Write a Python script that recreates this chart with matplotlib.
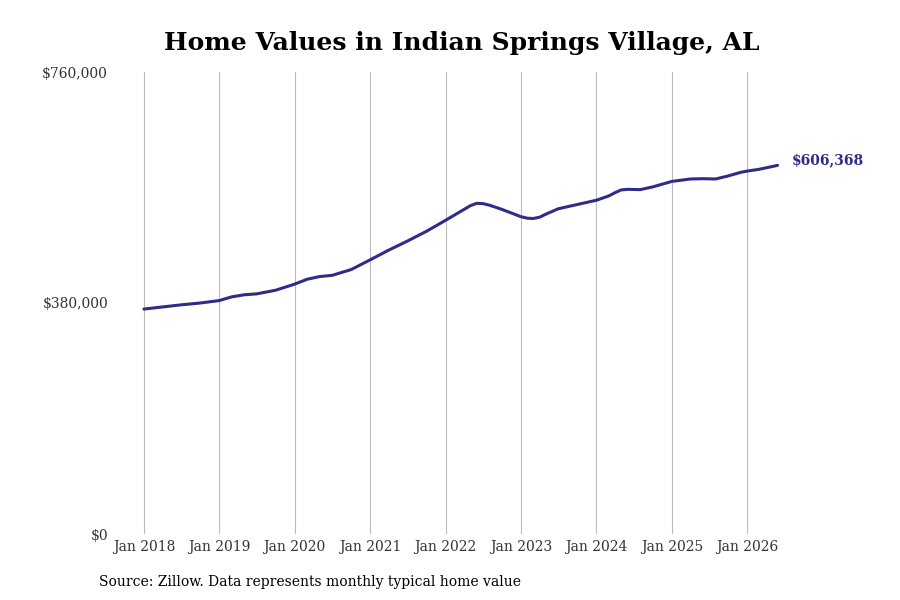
import matplotlib
matplotlib.use("Agg")
import matplotlib.pyplot as plt
import pandas as pd

plt.rcParams['font.family'] = ['DejaVu Serif']

# typical home value
dates = ["2018-01", "2018-04", "2018-07", "2018-10", "2019-01", "2019-03", "2019-05",
         "2019-07", "2019-10", "2020-01", "2020-03", "2020-05", "2020-07", "2020-10",
         "2021-01", "2021-04", "2021-07", "2021-10", "2022-01", "2022-04", "2022-05",
         "2022-06", "2022-07", "2022-08", "2022-10", "2023-01", "2023-02", "2023-03",
         "2023-04", "2023-05", "2023-07", "2023-10", "2024-01", "2024-03", "2024-04",
         "2024-05", "2024-06", "2024-08", "2024-10", "2025-01", "2025-04", "2025-06",
         "2025-08", "2025-10", "2025-12", "2026-01", "2026-03", "2026-05-28"]
values = [370000, 373500, 377000, 380000, 384000, 390000, 393500,
          395000, 401000, 411000, 419000, 423500, 425500, 435000,
          451000, 467000, 482000, 498000, 516000, 534000, 540000,
          544000, 543500, 541000, 534000, 522000, 519500, 519000,
          521000, 526000, 535000, 542000, 549000, 556000, 561500,
          566000, 567000, 566500, 571000, 580000, 584000, 584500,
          584000, 589000, 595000, 597000, 600000, 606368]
year_ticks = list(range(2018, 2027))
y_ticks = [0, 380000, 760000]
y_labels = ["$0", "$380,000", "$760,000"]

line_color = "#2f2b88"

dates = pd.to_datetime(dates, format="ISO8601")
fig = plt.figure(figsize=(9, 6), dpi=100)
ax = fig.add_axes([115 / 900, 66 / 600, 685 / 900, 462 / 600])

ax.plot(dates, values, color=line_color, lw=2.2, solid_capstyle="round",
        solid_joinstyle="round")
ax.text(dates[-1] + pd.Timedelta(days=68), values[-1] + 8000, "$606,368", color=line_color,
        fontsize=10, fontweight="bold", va="center", ha="left")

start = pd.Timestamp("2018-01-01")
ax.set_xlim(start - pd.Timedelta(days=140), start + pd.Timedelta(days=3178))
ax.set_ylim(0, 760000)

ax.set_xticks([pd.Timestamp(f"{y}-01-01") for y in year_ticks])
ax.set_xticklabels([f"Jan {y}" for y in year_ticks])
ax.set_yticks(y_ticks)
ax.set_yticklabels(y_labels)
ax.tick_params(axis="both", length=0, labelsize=10, labelcolor="#333333")
ax.tick_params(axis="y", pad=5)
ax.tick_params(axis="x", pad=4)
ax.grid(axis="x", color="#bbbbbb", lw=0.8)
ax.set_axisbelow(True)
for s in ax.spines.values():
    s.set_visible(False)

fig.text(462 / 900, 1 - 43 / 600, "Home Values in Indian Springs Village, AL",
         ha="center", va="center", fontsize=18, fontweight="bold")
fig.text(99 / 900, 1 - 582 / 600, "Source: Zillow. Data represents monthly typical home value",
         ha="left", va="center", fontsize=10)

fig.savefig("out.png", dpi=100)
